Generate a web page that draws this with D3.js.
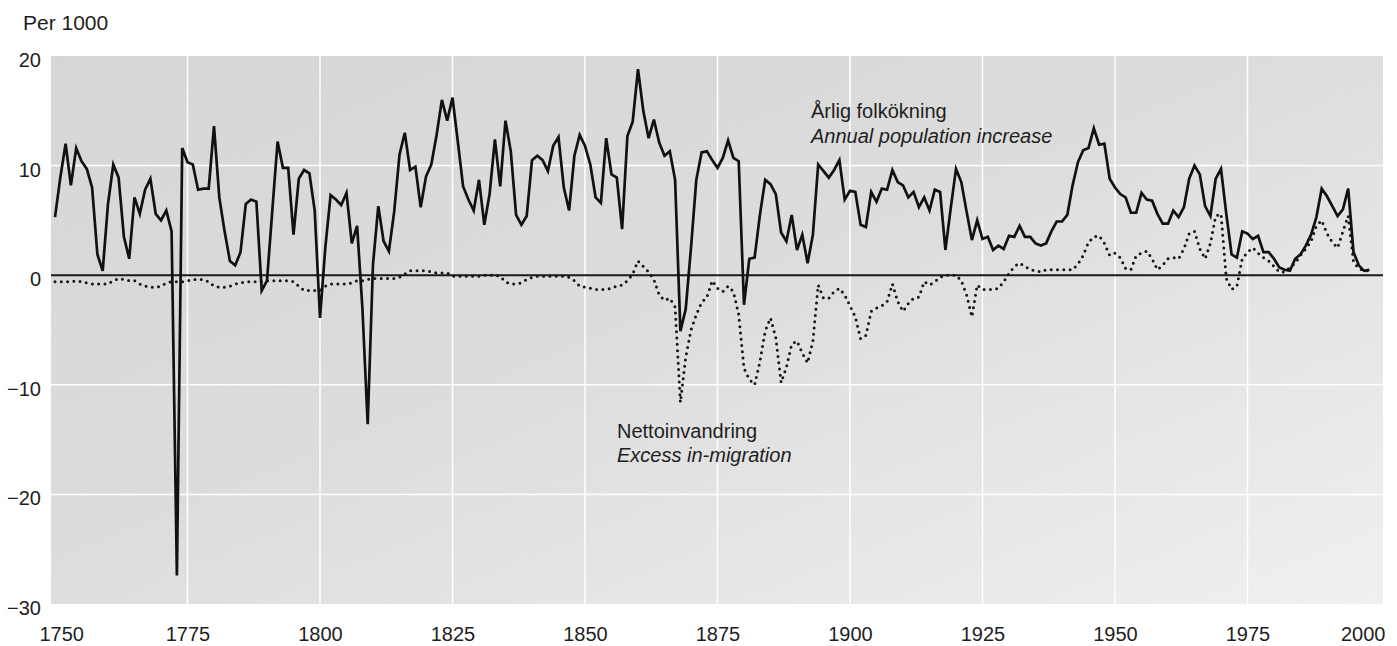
<!DOCTYPE html>
<html>
<head>
<meta charset="utf-8">
<script src="https://cdn.jsdelivr.net/npm/d3@7"></script>
<style>
  body { margin: 0; background: #fff; }
  svg text { font-family: "Liberation Sans", Arial, sans-serif; fill: #1e1e1e; }
</style>
</head>
<body>
<svg id="chart" width="1397" height="646"></svg>
<script>
// Sweden, per 1000 inhabitants, one value per year from 1750
const firstYear = 1750;

// Årlig folkökning / annual population increase
const increase = [
  5.3, 8.9, 12.0, 8.2, 11.6, 10.4, 9.7, 8.0, 1.9, 0.4,       // 1750
  6.5, 10.1, 8.9, 3.5, 1.5, 7.1, 5.6, 7.8, 8.8, 5.6,         // 1760
  5.0, 5.9, 4.0, -27.4, 11.6, 10.3, 10.1, 7.8, 7.9, 7.9,     // 1770
  13.6, 7.1, 4.0, 1.3, 0.9, 2.1, 6.5, 6.9, 6.7, -1.4,        // 1780
  -0.5, 5.9, 12.2, 9.8, 9.8, 3.7, 8.8, 9.6, 9.3, 5.9,        // 1790
  -3.9, 2.5, 7.3, 6.9, 6.4, 7.5, 2.9, 4.5, -3.0, -13.6,      // 1800
  1.0, 6.3, 3.1, 2.2, 5.8, 11.0, 13.0, 9.6, 9.9, 6.2,        // 1810
  9.0, 10.1, 12.8, 16.0, 14.1, 16.2, 12.2, 8.1, 6.9, 5.9,    // 1820
  8.7, 4.6, 7.4, 12.4, 8.1, 14.1, 11.3, 5.5, 4.6, 5.4,       // 1830
  10.5, 10.9, 10.5, 9.5, 11.8, 12.6, 8.0, 5.9, 10.9, 12.8,   // 1840
  11.8, 10.1, 7.1, 6.6, 12.5, 9.2, 8.9, 4.2, 12.7, 14.0,     // 1850
  18.8, 15.0, 12.5, 14.2, 12.1, 10.9, 11.3, 8.7, -5.1, -3.1, // 1860
  2.5, 8.7, 11.2, 11.3, 10.5, 9.8, 10.7, 12.3, 10.7, 10.4,   // 1870
  -2.7, 1.5, 1.6, 5.5, 8.7, 8.3, 7.4, 3.9, 3.1, 5.5,         // 1880
  2.3, 3.7, 1.1, 3.7, 10.1, 9.5, 8.9, 9.6, 10.5, 6.9,        // 1890
  7.7, 7.6, 4.6, 4.4, 7.6, 6.7, 7.9, 7.8, 9.6, 8.5,          // 1900
  8.2, 7.1, 7.6, 6.2, 7.1, 5.9, 7.8, 7.6, 2.3, 6.1,          // 1910
  9.7, 8.5, 5.8, 3.2, 5.0, 3.3, 3.5, 2.3, 2.7, 2.4,          // 1920
  3.6, 3.5, 4.5, 3.5, 3.5, 2.9, 2.7, 2.9, 4.0, 4.9,          // 1930
  4.9, 5.5, 8.2, 10.3, 11.4, 11.6, 13.4, 11.9, 12.0, 8.8,    // 1940
  8.0, 7.4, 7.1, 5.7, 5.7, 7.5, 6.9, 6.8, 5.6, 4.7,          // 1950
  4.7, 5.9, 5.3, 6.2, 8.8, 10.0, 9.2, 6.3, 5.4, 8.8,         // 1960
  9.7, 5.6, 1.9, 1.6, 4.0, 3.8, 3.3, 3.6, 2.1, 2.1,          // 1970
  1.5, 0.7, 0.5, 0.4, 1.5, 1.9, 2.7, 3.7, 5.3, 7.9,          // 1980
  7.2, 6.3, 5.4, 6.0, 7.9, 2.1, 0.9, 0.4, 0.5                // 1990
];

// Nettoinvandring / excess in-migration
const migration = [
  -0.6, -0.6, -0.6, -0.6, -0.5, -0.6, -0.7, -0.8, -0.8, -0.8, // 1750
  -0.8, -0.5, -0.3, -0.4, -0.5, -0.5, -0.8, -1.0, -1.1, -1.1, // 1760
  -1.0, -0.7, -0.6, -0.6, -0.6, -0.5, -0.4, -0.4, -0.4, -0.6, // 1770
  -1.0, -1.1, -1.1, -1.0, -0.8, -0.7, -0.6, -0.6, -0.6, -0.6, // 1780
  -0.5, -0.5, -0.5, -0.5, -0.5, -0.6, -1.0, -1.4, -1.4, -1.4, // 1790
  -1.4, -1.0, -0.8, -0.8, -0.8, -0.8, -0.7, -0.5, -0.5, -0.4, // 1800
  -0.3, -0.3, -0.3, -0.3, -0.3, -0.2, 0.1, 0.4, 0.4, 0.4,     // 1810
  0.4, 0.3, 0.2, 0.2, 0.2, -0.1, -0.1, -0.1, -0.1, -0.1,      // 1820
  -0.1, 0.0, 0.0, 0.0, -0.1, -0.6, -0.8, -0.8, -0.7, -0.4,    // 1830
  -0.2, -0.1, -0.1, -0.1, -0.1, -0.1, -0.1, -0.2, -0.5, -1.0, // 1840
  -1.1, -1.2, -1.3, -1.3, -1.3, -1.2, -1.0, -0.9, -0.5, 0.1,  // 1850
  1.3, 0.8, 0.3, -0.4, -1.8, -2.3, -2.1, -2.9, -11.6, -7.5,   // 1860
  -5.0, -3.6, -2.5, -2.0, -0.5, -1.2, -1.5, -1.0, -1.5, -3.6, // 1870
  -8.5, -9.5, -10.0, -7.9, -5.1, -3.9, -5.7, -9.8, -8.4, -6.3,// 1880
  -6.0, -7.1, -8.0, -6.0, -0.9, -2.1, -2.1, -1.5, -1.2, -1.8, // 1890
  -2.8, -3.8, -5.8, -5.5, -3.3, -3.0, -2.8, -2.4, -0.8, -2.4, // 1900
  -3.3, -2.6, -2.1, -2.0, -0.6, -0.9, -0.6, -0.2, 0.0, 0.0,   // 1910
  0.0, -0.5, -1.8, -3.8, -0.9, -1.3, -1.3, -1.3, -1.2, -0.6,  // 1920
  0.15, 0.8, 1.1, 0.8, 0.5, 0.4, 0.3, 0.5, 0.5, 0.5,          // 1930
  0.5, 0.5, 0.5, 1.0, 1.8, 3.0, 3.5, 3.6, 2.9, 1.8,           // 1940
  2.0, 1.6, 0.6, 0.5, 1.8, 2.0, 2.2, 1.5, 0.5, 0.9,           // 1950
  1.5, 1.6, 1.5, 2.4, 3.8, 4.0, 2.4, 1.5, 2.9, 5.4,           // 1960
  5.6, -0.3, -1.3, -1.0, 1.5, 2.1, 2.5, 2.0, 1.6, 1.3,        // 1970
  0.8, 0.3, 0.3, 0.7, 1.1, 1.8, 2.4, 3.1, 4.5, 5.0,           // 1980
  3.8, 3.0, 2.5, 4.0, 5.4, 1.2, 0.6, 0.4, 0.4                 // 1990
];

const years = d3.range(firstYear, firstYear + increase.length);
const xTicks = [1750, 1775, 1800, 1825, 1850, 1875, 1900, 1925, 1950, 1975, 2000];
const yTicks = [20, 10, 0, -10, -20, -30];

const svg = d3.select("#chart");

const x = d3.scaleLinear().domain([1750, 2000]).range([55, 1380]);
const y = d3.scaleLinear().domain([-30, 20]).range([604, 56]);

// panel background, darker top left, fading lighter to bottom right
const grad = svg.append("defs").append("linearGradient")
    .attr("id", "panelFill")
    .attr("x1", 0).attr("y1", 0).attr("x2", 1).attr("y2", 1);
grad.append("stop").attr("offset", "0%").attr("stop-color", "#d6d6d6");
grad.append("stop").attr("offset", "45%").attr("stop-color", "#dcdcdc");
grad.append("stop").attr("offset", "100%").attr("stop-color", "#f0f0f0");

const left = x(1750) - 4, right = x(2000) + 3;
svg.append("rect")
    .attr("x", left)
    .attr("y", y(20))
    .attr("width", right - left)
    .attr("height", y(-30) - y(20))
    .attr("fill", "url(#panelFill)");

// white grid
svg.append("g")
    .selectAll("line")
    .data(xTicks.slice(1, -1))
    .join("line")
    .attr("x1", d => x(d)).attr("x2", d => x(d))
    .attr("y1", y(20)).attr("y2", y(-30))
    .attr("stroke", "#fff")
    .attr("stroke-width", 1.5);

svg.append("g")
    .selectAll("line")
    .data(yTicks.filter(d => d !== 20 && d !== -30 && d !== 0))
    .join("line")
    .attr("x1", left).attr("x2", right)
    .attr("y1", d => y(d)).attr("y2", d => y(d))
    .attr("stroke", "#fff")
    .attr("stroke-width", 1.5);

// zero line
svg.append("line")
    .attr("x1", left).attr("x2", right)
    .attr("y1", y(0)).attr("y2", y(0))
    .attr("stroke", "#1a1a1a")
    .attr("stroke-width", 2);

const line = d3.line()
    .x((d, i) => x(years[i]))
    .y(d => y(d));

svg.append("path")
    .datum(migration)
    .attr("d", line)
    .attr("fill", "none")
    .attr("stroke", "#151515")
    .attr("stroke-width", 3)
    .attr("stroke-linecap", "round")
    .attr("stroke-dasharray", "0,6.3");

svg.append("path")
    .datum(increase)
    .attr("d", line)
    .attr("fill", "none")
    .attr("stroke", "#111")
    .attr("stroke-width", 2.7);

// axes
const xAxis = svg.append("g")
    .attr("transform", "translate(0,627)")
    .call(d3.axisBottom(x).tickValues(xTicks).tickFormat(d3.format("d")).tickSize(0).tickPadding(0));
xAxis.select(".domain").remove();
xAxis.selectAll("text")
    .attr("font-size", 20)
    .attr("text-anchor", d => d === 1750 ? "start" : d === 2000 ? "end" : "middle")
    .attr("dx", d => d === 1750 ? -16 : d === 2000 ? 5 : 0);

const yAxis = svg.append("g")
    .attr("transform", "translate(41,4)")
    .call(d3.axisLeft(y).tickValues(yTicks).tickSize(0).tickPadding(0));
yAxis.select(".domain").remove();
yAxis.selectAll("text").attr("font-size", 20);

svg.append("text")
    .attr("x", 23).attr("y", 30)
    .attr("font-size", 21)
    .text("Per 1000");

// labels for the two series
svg.append("text").attr("x", 811).attr("y", 118).attr("font-size", 20).text("Årlig folkökning");
svg.append("text").attr("x", 811).attr("y", 143).attr("font-size", 20)
    .attr("font-style", "italic").text("Annual population increase");

svg.append("text").attr("x", 617).attr("y", 438).attr("font-size", 20).text("Nettoinvandring");
svg.append("text").attr("x", 617).attr("y", 462).attr("font-size", 20)
    .attr("font-style", "italic").text("Excess in-migration");
</script>
</body>
</html>
